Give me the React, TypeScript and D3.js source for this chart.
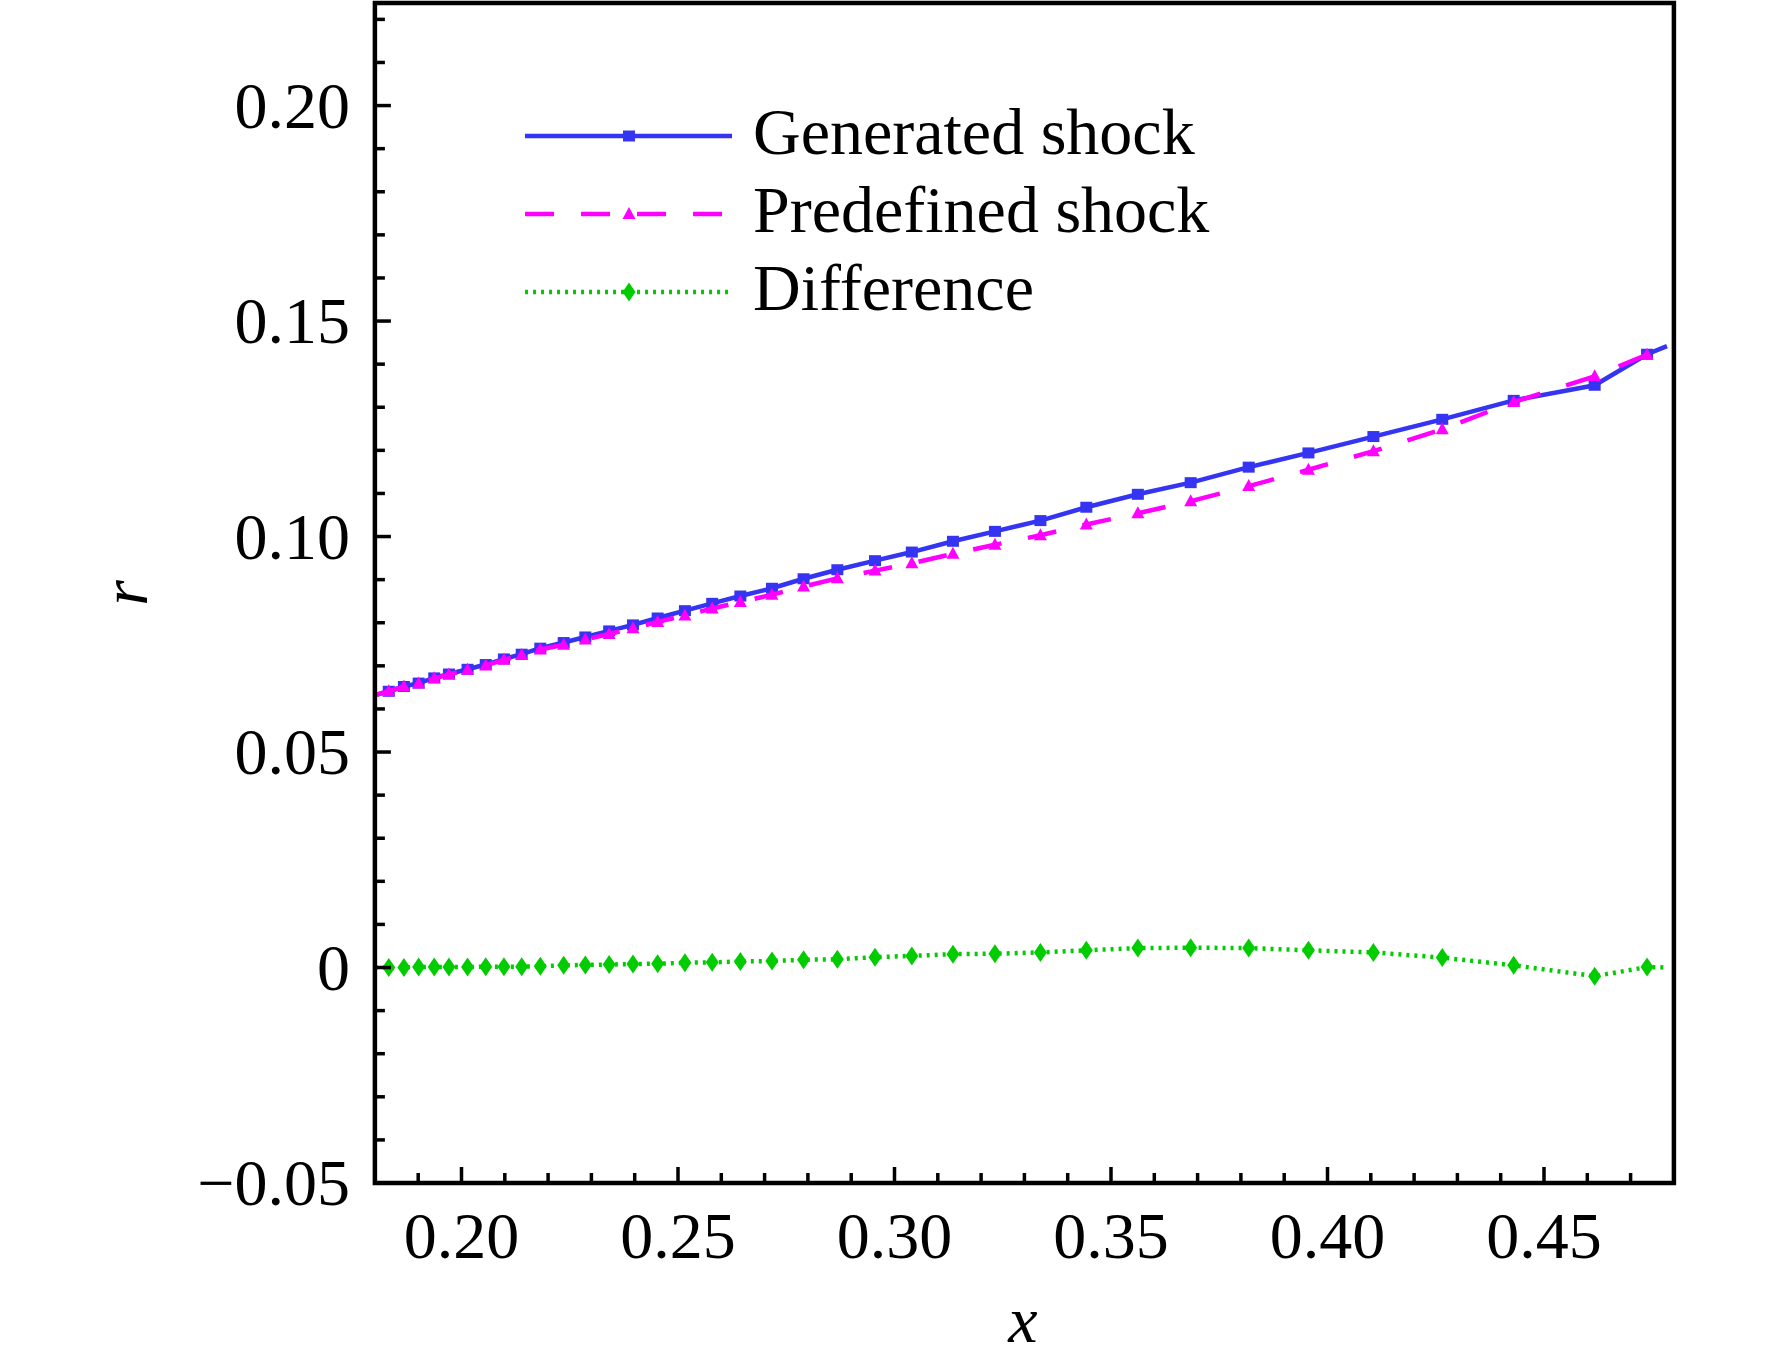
import React from 'react';
import * as d3 from 'd3';

// x positions of the shock points
const xVals = [
  0.1800, 0.1832, 0.1867, 0.1901, 0.1937, 0.1971, 0.2014, 0.2056, 0.2098, 0.2139,
  0.2182, 0.2236, 0.2286, 0.2341, 0.2396, 0.2453, 0.2516, 0.2579, 0.2644, 0.2717,
  0.2790, 0.2868, 0.2955, 0.3040, 0.3135, 0.3232, 0.3337, 0.3443, 0.3562, 0.3684,
  0.3818, 0.3956, 0.4106, 0.4265, 0.4430, 0.4617, 0.4738, 0.4784,
];

const generated = [
  0.0632, 0.0641, 0.0652, 0.0660, 0.0672, 0.0681, 0.0692, 0.0703, 0.0716, 0.0727,
  0.0741, 0.0754, 0.0767, 0.0781, 0.0795, 0.0811, 0.0828, 0.0845, 0.0862, 0.0880,
  0.0902, 0.0923, 0.0944, 0.0964, 0.0989, 0.1012, 0.1037, 0.1068, 0.1098, 0.1125,
  0.1161, 0.1194, 0.1232, 0.1272, 0.1316, 0.1351, 0.1423, 0.1442,
];

const predefined = [
  0.0632, 0.0641, 0.0652, 0.0659, 0.0671, 0.0680, 0.0691, 0.0701, 0.0714, 0.0725,
  0.0738, 0.0749, 0.0761, 0.0774, 0.0787, 0.0802, 0.0817, 0.0833, 0.0848, 0.0865,
  0.0884, 0.0903, 0.0921, 0.0938, 0.0960, 0.0981, 0.1003, 0.1028, 0.1054, 0.1082,
  0.1117, 0.1155, 0.1198, 0.1249, 0.1312, 0.1372, 0.1422, 0.1443,
];

const difference = [
  0.0000, 0.0000, 0.0000, 0.0001, 0.0001, 0.0001, 0.0001, 0.0002, 0.0002, 0.0002,
  0.0003, 0.0005, 0.0006, 0.0007, 0.0008, 0.0009, 0.0011, 0.0012, 0.0014, 0.0015,
  0.0018, 0.0019, 0.0024, 0.0027, 0.0031, 0.0032, 0.0035, 0.0040, 0.0045, 0.0046,
  0.0045, 0.0040, 0.0035, 0.0023, 0.0005, -0.0020, 0.0001, 0.0000,
];

const xMajorTicks = [0.20, 0.25, 0.30, 0.35, 0.40, 0.45];
const xTickLabels = ['0.20', '0.25', '0.30', '0.35', '0.40', '0.45'];
const yMajorTicks = [0.20, 0.15, 0.10, 0.05, 0, -0.05];
const yTickLabels = ['0.20', '0.15', '0.10', '0.05', '0', '\u22120.05'];
const legendLabels = ['Generated shock', 'Predefined shock', 'Difference'];

const W = 1772;
const H = 1362;
const FONT = '"Liberation Serif", "Times New Roman", serif';

const BLUE = '#3434f2';
const MAGENTA = '#ff00ff';
const GREEN = '#00cc00';

const x = d3.scaleLinear().domain([0.18, 0.48]).range([374.9, 1673.9]);
const y = d3.scaleLinear().domain([-0.05, 0.2238]).range([1183, 3]);

const xMinor = d3.range(19, 48).map(v => v / 100).filter(v => !xMajorTicks.some(m => Math.abs(m - v) < 1e-6));
const yMinor = d3.range(-4, 23).map(v => v / 100).filter(v => !yMajorTicks.some(m => Math.abs(m - v) < 1e-6));

const square = (cx: number, cy: number) => `M${cx - 6},${cy - 5.5}h12v11h-12Z`;
const triangle = (cx: number, cy: number) => `M${cx},${cy - 7}L${cx + 6.5},${cy + 5}L${cx - 6.5},${cy + 5}Z`;
const diamond = (cx: number, cy: number) => `M${cx},${cy - 9.5}L${cx + 6.5},${cy}L${cx},${cy + 9.5}L${cx - 6.5},${cy}Z`;

interface Series {
  values: number[];
  color: string;
  dash?: string;
  marker: (cx: number, cy: number) => string;
}

const series: Series[] = [
  { values: generated, color: BLUE, marker: square },
  { values: predefined, color: MAGENTA, dash: '29 27', marker: triangle },
  { values: difference, color: GREEN, dash: '3 5', marker: diamond },
];

export default function App() {
  const left = x.range()[0];
  const right = x.range()[1];
  const top = y.range()[1];
  const bottom = y.range()[0];

  const line = (vals: number[]) =>
    d3.line<number>().x((_, i) => x(xVals[i])).y(v => y(v))(vals) || '';

  return (
    <svg
      width={W}
      height={H}
      viewBox={`0 0 ${W} ${H}`}
      style={{ position: 'absolute', left: 0, top: 0, background: '#fff' }}
      fontFamily={FONT}
    >
      <defs>
        <clipPath id="plot-clip">
          <rect x={left} y={top} width={right - left} height={bottom - top} />
        </clipPath>
      </defs>
      <rect x={0} y={0} width={W} height={H} fill="#fff" />

      {/* data */}
      <g clipPath="url(#plot-clip)">
        {series.map((s, si) => (
          <g key={si}>
            <path
              d={line(s.values)}
              fill="none"
              stroke={s.color}
              strokeWidth={4.5}
              strokeDasharray={s.dash}
            />
            {s.values.map((v, i) =>
              i === 0 || i === s.values.length - 1 ? null : (
                <path key={i} d={s.marker(x(xVals[i]), y(v))} fill={s.color} />
              )
            )}
          </g>
        ))}
      </g>

      {/* ticks */}
      <g stroke="#000" strokeWidth={3.5}>
        {xMajorTicks.map(t => (
          <line key={`xM${t}`} x1={x(t)} x2={x(t)} y1={bottom} y2={bottom - 16} />
        ))}
        {xMinor.map(t => (
          <line key={`xm${t}`} x1={x(t)} x2={x(t)} y1={bottom} y2={bottom - 10} />
        ))}
        {yMajorTicks.map(t => (
          <line key={`yM${t}`} x1={left} x2={left + 16} y1={y(t)} y2={y(t)} />
        ))}
        {yMinor.map(t => (
          <line key={`ym${t}`} x1={left} x2={left + 10} y1={y(t)} y2={y(t)} />
        ))}
      </g>

      {/* frame */}
      <rect
        x={left}
        y={top}
        width={right - left}
        height={bottom - top}
        fill="none"
        stroke="#000"
        strokeWidth={4.5}
      />

      {/* tick labels */}
      <g fontSize={66} fill="#000">
        {xMajorTicks.map((t, i) => (
          <text key={`xl${t}`} x={x(t)} y={1258} textAnchor="middle">
            {xTickLabels[i]}
          </text>
        ))}
        {yMajorTicks.map((t, i) => (
          <text key={`yl${t}`} x={350} y={y(t) + 22} textAnchor="end">
            {yTickLabels[i]}
          </text>
        ))}
      </g>

      {/* axis titles */}
      <text x={1023} y={1342} fontSize={66} fontStyle="italic" textAnchor="middle">
        x
      </text>
      <text
        transform={`translate(147,${(top + bottom) / 2}) rotate(-90)`}
        fontSize={66}
        fontStyle="italic"
        textAnchor="middle"
      >
        r
      </text>

      {/* legend */}
      <g>
        {series.map((s, i) => {
          const ly = 136 + i * 78;
          return (
            <g key={`lg${i}`}>
              <line
                x1={525}
                x2={732}
                y1={ly}
                y2={ly}
                stroke={s.color}
                strokeWidth={4.5}
                strokeDasharray={s.dash}
              />
              <path d={s.marker(629, ly)} fill={s.color} />
              <text x={753} y={ly + 18} fontSize={66} fill="#000">
                {legendLabels[i]}
              </text>
            </g>
          );
        })}
      </g>
    </svg>
  );
}
